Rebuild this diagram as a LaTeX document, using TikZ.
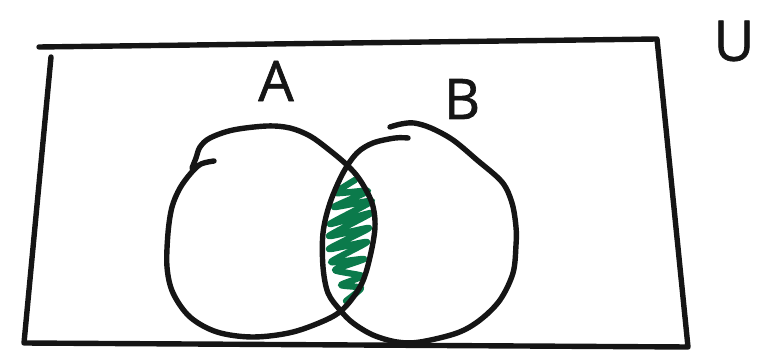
\documentclass[tikz,border=0pt]{standalone}
\usepackage{fontspec}
\newfontfamily\vnHand[FakeBold=1.2]{Open Sans}
\usetikzlibrary{positioning}
\definecolor{vnInk}{HTML}{151515}
\definecolor{vnGreen}{HTML}{0B7A4B}

\begin{document}
\begin{tikzpicture}[x=1pt, y=-1pt, line cap=round, line join=round]
  \useasboundingbox (0,0) rectangle (766,350);
  % universe
  \draw[vnInk, line width=5.4pt] (39,47) -- (657,39) -- (688,347) -- (24,343) -- (51,57);
  % shaded intersection
  \draw[vnGreen, line width=6.4pt] plot[smooth, tension=0.35] coordinates {
      (355,180) (336,193) (368,191) (334,207) (372,201) (330,224) (371,213)
      (329,236) (369,228) (329,249) (367,242) (331,262) (364,259) (335,270)
      (362,276) (341,285) (361,288) (346,301)};
  % set A
  \draw[vnInk, line width=5.4pt] plot[smooth, tension=0.55] coordinates {
      (214,161) (201,164) (191,173) (180,188) (172,207) (168,233) (167,267)
      (173,293) (190,317) (217,332) (253,337) (293,332) (330,318) (347,305)
      (362,283) (370,257) (375,227) (372,203) (360,180) (347,165) (328,149)
      (310,136) (290,128) (267,126) (233,130) (210,138) (200,147) (196,158)
      (192,168)};
  % set B
  \draw[vnInk, line width=5.4pt] plot[smooth, tension=0.55] coordinates {
      (390,127) (401,124) (414,123) (431,128) (453,140) (477,160) (502,182)
      (512,203) (516,227) (516,245) (513,273) (500,300) (480,320) (457,333)
      (420,342) (397,342) (373,335) (353,323) (340,310) (328,293) (323,267)
      (323,233) (330,203) (343,173) (357,153) (373,143) (395,138) (408,138)};
  % labels
  \foreach \name/\x/\y in {A/276/81, B/462/99, U/734/41}
    \node[font=\vnHand\fontsize{56}{56}\selectfont, text=vnInk, inner sep=0pt]
      (lbl\name) at (\x,\y) {\name};
\end{tikzpicture}
\end{document}
